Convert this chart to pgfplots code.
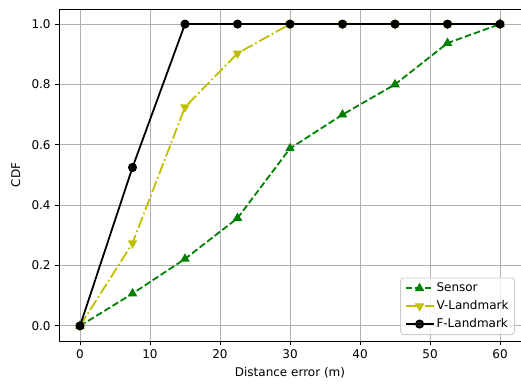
\documentclass[border=0pt]{standalone}
\usepackage{pgfplots}
\pgfplotsset{compat=1.18}
\usepackage{fontspec}
\setmainfont{DejaVu Sans}
\definecolor{mgreen}{rgb}{0,0.5,0}
\definecolor{myellow}{rgb}{0.75,0.75,0}
\begin{document}
\begin{tikzpicture}
\fontsize{12}{14}\selectfont
\begin{axis}[
  scale only axis,
  width=462pt, height=332pt,
  xmin=-3, xmax=63, ymin=-0.05, ymax=1.05,
  xtick={0,10,20,30,40,50,60},
  ytick={0,0.2,0.4,0.6,0.8,1.0},
  yticklabel style={/pgf/number format/.cd,fixed,fixed zerofill,precision=1},
  /pgf/number format/assume math mode=true,
  tick label style={font=\fontsize{12}{14}\selectfont},
  label style={font=\fontsize{12}{14}\selectfont},
  xlabel={Distance error (m)}, ylabel={CDF},
  xlabel style={yshift=-1pt},
  ylabel style={yshift=3pt},
  grid=major,
  grid style={color=black!31, line width=0.96pt},
  axis line style={line width=0.96pt},
  tick align=outside, tick pos=left,
  major tick length=4.2pt,
  tick style={line width=0.96pt, black},
  legend cell align=left,
  legend image code/.code={\draw[mark repeat=2,mark phase=2] plot coordinates {(0pt,0pt)(14pt,0pt)(28pt,0pt)};},
  legend style={font=\fontsize{12}{14}\selectfont, draw=black!20, line width=0.96pt, rounded corners=3pt, fill=white, fill opacity=0.8, text opacity=1, inner xsep=4pt, inner ysep=3pt, row sep=3pt, at={(1,0)}, xshift=-6pt, yshift=6pt, anchor=south east},
]
\coordinate (sw) at (rel axis cs:0,0);
\coordinate (ne) at (rel axis cs:1,1);
\addplot[mgreen, line width=1.8pt, dash pattern=on 6.66pt off 2.88pt, mark=triangle*, mark size=3.8pt, mark options={solid}]
coordinates {(0,0) (7.5,0.107) (15,0.222) (22.5,0.357) (30,0.588) (37.5,0.70) (45,0.80) (52.5,0.937) (60,1.0)};
\addlegendentry{Sensor}
\addplot[myellow, line width=1.8pt, dash pattern=on 11.5pt off 2.9pt on 1.8pt off 2.9pt, mark=triangle*, mark size=3.8pt, mark options={solid, rotate=180}]
coordinates {(0,0) (7.5,0.274) (15,0.725) (22.5,0.903) (30,1.0) (37.5,1.0) (45,1.0) (52.5,1.0) (60,1.0)};
\addlegendentry{V-Landmark}
\addplot[black, line width=1.8pt, mark=*, mark size=3.6pt]
coordinates {(0,0) (7.5,0.525) (15,1.0) (22.5,1.0) (30,1.0) (37.5,1.0) (45,1.0) (52.5,1.0) (60,1.0)};
\addlegendentry{F-Landmark}
\end{axis}
\pgfresetboundingbox
\path[use as bounding box] (sw) ++(-59pt,-42pt) rectangle ([yshift=9pt]ne);
\end{tikzpicture}
\end{document}
